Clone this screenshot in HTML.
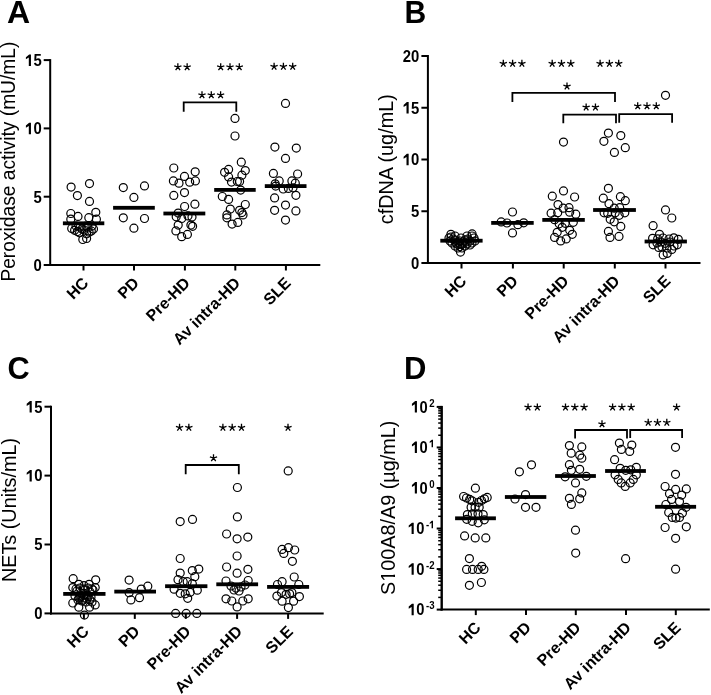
<!DOCTYPE html>
<html><head><meta charset="utf-8"><style>
html,body{margin:0;padding:0;background:#fff;width:711px;height:695px;overflow:hidden}
svg{display:block;will-change:transform}
text{font-family:"Liberation Sans",sans-serif;fill:#000}
</style></head><body>
<svg width="711" height="695" viewBox="0 0 711 695">
<rect width="711" height="695" fill="#fff"/>
<text transform="translate(6.9 23) scale(1 1)" font-size="32" font-weight="700">A</text>
<line x1="50.20" y1="59.10" x2="50.20" y2="266.00" stroke="#000" stroke-width="2"/>
<line x1="49.20" y1="265.00" x2="320.30" y2="265.00" stroke="#000" stroke-width="2"/>
<line x1="43.70" y1="60.10" x2="50.20" y2="60.10" stroke="#000" stroke-width="2"/>
<g transform="translate(41.70 65.90) scale(0.93 1)"><polygon points="-11.55,0.00 -11.55,-11.46 -13.47,-11.46 -16.99,-8.64 -16.99,-6.56 -13.87,-8.32 -13.87,0.00" fill="#000"/><text x="-8.90" y="0" font-size="16" font-weight="700">5</text></g>
<line x1="43.70" y1="128.40" x2="50.20" y2="128.40" stroke="#000" stroke-width="2"/>
<g transform="translate(41.70 134.20) scale(0.93 1)"><polygon points="-11.55,0.00 -11.55,-11.46 -13.47,-11.46 -16.99,-8.64 -16.99,-6.56 -13.87,-8.32 -13.87,0.00" fill="#000"/><text x="-8.90" y="0" font-size="16" font-weight="700">0</text></g>
<line x1="43.70" y1="196.70" x2="50.20" y2="196.70" stroke="#000" stroke-width="2"/>
<g transform="translate(41.70 202.50) scale(0.93 1)"><text x="-8.90" y="0" font-size="16" font-weight="700">5</text></g>
<line x1="43.70" y1="265.00" x2="50.20" y2="265.00" stroke="#000" stroke-width="2"/>
<g transform="translate(41.70 270.80) scale(0.93 1)"><text x="-8.90" y="0" font-size="16" font-weight="700">0</text></g>
<line x1="83.50" y1="265.00" x2="83.50" y2="270.50" stroke="#000" stroke-width="2"/>
<line x1="134.00" y1="265.00" x2="134.00" y2="270.50" stroke="#000" stroke-width="2"/>
<line x1="184.90" y1="265.00" x2="184.90" y2="270.50" stroke="#000" stroke-width="2"/>
<line x1="235.30" y1="265.00" x2="235.30" y2="270.50" stroke="#000" stroke-width="2"/>
<line x1="285.90" y1="265.00" x2="285.90" y2="270.50" stroke="#000" stroke-width="2"/>
<text x="89.5" y="284.0" font-size="16" font-weight="700" text-anchor="end" transform="rotate(-45 89.5 284.0)">HC</text>
<text x="140.0" y="284.0" font-size="16" font-weight="700" text-anchor="end" transform="rotate(-45 140.0 284.0)">PD</text>
<text x="190.9" y="284.0" font-size="16" font-weight="700" text-anchor="end" transform="rotate(-45 190.9 284.0)">Pre-HD</text>
<text x="241.3" y="284.0" font-size="16" font-weight="700" text-anchor="end" transform="rotate(-45 241.3 284.0)">Av intra-HD</text>
<text x="291.9" y="284.0" font-size="16" font-weight="700" text-anchor="end" transform="rotate(-45 291.9 284.0)">SLE</text>
<text x="15.2" y="281.6" font-size="19.4" font-weight="400" text-anchor="start" transform="rotate(-90 15.2 281.6)" textLength="240" lengthAdjust="spacingAndGlyphs">Peroxidase activity (mU/mL)</text>
<circle cx="71.1" cy="187.1" r="4.0" fill="none" stroke="#000" stroke-width="1.2"/>
<circle cx="89.5" cy="183.6" r="4.0" fill="none" stroke="#000" stroke-width="1.2"/>
<circle cx="77.4" cy="195.6" r="4.0" fill="none" stroke="#000" stroke-width="1.2"/>
<circle cx="89.5" cy="201.4" r="4.0" fill="none" stroke="#000" stroke-width="1.2"/>
<circle cx="70.8" cy="213.5" r="4.0" fill="none" stroke="#000" stroke-width="1.2"/>
<circle cx="95.8" cy="212.3" r="4.0" fill="none" stroke="#000" stroke-width="1.2"/>
<circle cx="78.0" cy="216.4" r="4.0" fill="none" stroke="#000" stroke-width="1.2"/>
<circle cx="88.8" cy="217.7" r="4.0" fill="none" stroke="#000" stroke-width="1.2"/>
<circle cx="70.8" cy="219.2" r="4.0" fill="none" stroke="#000" stroke-width="1.2"/>
<circle cx="96.4" cy="219.2" r="4.0" fill="none" stroke="#000" stroke-width="1.2"/>
<circle cx="71.7" cy="228.4" r="4.0" fill="none" stroke="#000" stroke-width="1.2"/>
<circle cx="74.6" cy="230.3" r="4.0" fill="none" stroke="#000" stroke-width="1.2"/>
<circle cx="77.4" cy="231.6" r="4.0" fill="none" stroke="#000" stroke-width="1.2"/>
<circle cx="79.6" cy="232.8" r="4.0" fill="none" stroke="#000" stroke-width="1.2"/>
<circle cx="93.5" cy="229.0" r="4.0" fill="none" stroke="#000" stroke-width="1.2"/>
<circle cx="91.3" cy="231.0" r="4.0" fill="none" stroke="#000" stroke-width="1.2"/>
<circle cx="89.1" cy="232.2" r="4.0" fill="none" stroke="#000" stroke-width="1.2"/>
<circle cx="86.6" cy="233.8" r="4.0" fill="none" stroke="#000" stroke-width="1.2"/>
<circle cx="82.8" cy="239.5" r="4.0" fill="none" stroke="#000" stroke-width="1.2"/>
<circle cx="86.6" cy="238.5" r="4.0" fill="none" stroke="#000" stroke-width="1.2"/>
<circle cx="76.0" cy="226.0" r="4.0" fill="none" stroke="#000" stroke-width="1.2"/>
<circle cx="80.0" cy="227.0" r="4.0" fill="none" stroke="#000" stroke-width="1.2"/>
<circle cx="84.0" cy="230.0" r="4.0" fill="none" stroke="#000" stroke-width="1.2"/>
<circle cx="88.0" cy="228.0" r="4.0" fill="none" stroke="#000" stroke-width="1.2"/>
<circle cx="82.0" cy="229.0" r="4.0" fill="none" stroke="#000" stroke-width="1.2"/>
<circle cx="86.0" cy="226.0" r="4.0" fill="none" stroke="#000" stroke-width="1.2"/>
<circle cx="92.0" cy="226.0" r="4.0" fill="none" stroke="#000" stroke-width="1.2"/>
<circle cx="123.3" cy="187.6" r="4.0" fill="none" stroke="#000" stroke-width="1.2"/>
<circle cx="144.5" cy="185.9" r="4.0" fill="none" stroke="#000" stroke-width="1.2"/>
<circle cx="133.9" cy="197.4" r="4.0" fill="none" stroke="#000" stroke-width="1.2"/>
<circle cx="123.3" cy="217.8" r="4.0" fill="none" stroke="#000" stroke-width="1.2"/>
<circle cx="144.5" cy="218.5" r="4.0" fill="none" stroke="#000" stroke-width="1.2"/>
<circle cx="133.9" cy="228.2" r="4.0" fill="none" stroke="#000" stroke-width="1.2"/>
<circle cx="173.8" cy="168.0" r="4.0" fill="none" stroke="#000" stroke-width="1.2"/>
<circle cx="195.2" cy="171.8" r="4.0" fill="none" stroke="#000" stroke-width="1.2"/>
<circle cx="184.5" cy="176.4" r="4.0" fill="none" stroke="#000" stroke-width="1.2"/>
<circle cx="173.4" cy="180.9" r="4.0" fill="none" stroke="#000" stroke-width="1.2"/>
<circle cx="179.0" cy="183.2" r="4.0" fill="none" stroke="#000" stroke-width="1.2"/>
<circle cx="189.7" cy="182.2" r="4.0" fill="none" stroke="#000" stroke-width="1.2"/>
<circle cx="195.4" cy="180.9" r="4.0" fill="none" stroke="#000" stroke-width="1.2"/>
<circle cx="173.8" cy="195.4" r="4.0" fill="none" stroke="#000" stroke-width="1.2"/>
<circle cx="184.5" cy="192.6" r="4.0" fill="none" stroke="#000" stroke-width="1.2"/>
<circle cx="184.6" cy="206.5" r="4.0" fill="none" stroke="#000" stroke-width="1.2"/>
<circle cx="194.9" cy="204.2" r="4.0" fill="none" stroke="#000" stroke-width="1.2"/>
<circle cx="178.2" cy="213.1" r="4.0" fill="none" stroke="#000" stroke-width="1.2"/>
<circle cx="176.2" cy="216.8" r="4.0" fill="none" stroke="#000" stroke-width="1.2"/>
<circle cx="181.7" cy="218.5" r="4.0" fill="none" stroke="#000" stroke-width="1.2"/>
<circle cx="188.0" cy="215.9" r="4.0" fill="none" stroke="#000" stroke-width="1.2"/>
<circle cx="192.0" cy="217.1" r="4.0" fill="none" stroke="#000" stroke-width="1.2"/>
<circle cx="178.2" cy="225.1" r="4.0" fill="none" stroke="#000" stroke-width="1.2"/>
<circle cx="190.9" cy="225.1" r="4.0" fill="none" stroke="#000" stroke-width="1.2"/>
<circle cx="192.6" cy="226.3" r="4.0" fill="none" stroke="#000" stroke-width="1.2"/>
<circle cx="175.9" cy="230.9" r="4.0" fill="none" stroke="#000" stroke-width="1.2"/>
<circle cx="181.7" cy="236.7" r="4.0" fill="none" stroke="#000" stroke-width="1.2"/>
<circle cx="187.4" cy="234.4" r="4.0" fill="none" stroke="#000" stroke-width="1.2"/>
<circle cx="235.0" cy="118.4" r="4.0" fill="none" stroke="#000" stroke-width="1.2"/>
<circle cx="235.0" cy="136.0" r="4.0" fill="none" stroke="#000" stroke-width="1.2"/>
<circle cx="241.3" cy="162.2" r="4.0" fill="none" stroke="#000" stroke-width="1.2"/>
<circle cx="228.6" cy="169.4" r="4.0" fill="none" stroke="#000" stroke-width="1.2"/>
<circle cx="224.6" cy="172.3" r="4.0" fill="none" stroke="#000" stroke-width="1.2"/>
<circle cx="245.3" cy="170.6" r="4.0" fill="none" stroke="#000" stroke-width="1.2"/>
<circle cx="241.9" cy="175.2" r="4.0" fill="none" stroke="#000" stroke-width="1.2"/>
<circle cx="228.6" cy="176.9" r="4.0" fill="none" stroke="#000" stroke-width="1.2"/>
<circle cx="231.5" cy="182.1" r="4.0" fill="none" stroke="#000" stroke-width="1.2"/>
<circle cx="237.3" cy="181.5" r="4.0" fill="none" stroke="#000" stroke-width="1.2"/>
<circle cx="239.6" cy="181.5" r="4.0" fill="none" stroke="#000" stroke-width="1.2"/>
<circle cx="240.7" cy="190.1" r="4.0" fill="none" stroke="#000" stroke-width="1.2"/>
<circle cx="222.3" cy="196.5" r="4.0" fill="none" stroke="#000" stroke-width="1.2"/>
<circle cx="228.6" cy="199.4" r="4.0" fill="none" stroke="#000" stroke-width="1.2"/>
<circle cx="245.3" cy="204.5" r="4.0" fill="none" stroke="#000" stroke-width="1.2"/>
<circle cx="230.3" cy="209.1" r="4.0" fill="none" stroke="#000" stroke-width="1.2"/>
<circle cx="239.6" cy="210.3" r="4.0" fill="none" stroke="#000" stroke-width="1.2"/>
<circle cx="241.9" cy="212.6" r="4.0" fill="none" stroke="#000" stroke-width="1.2"/>
<circle cx="243.0" cy="214.9" r="4.0" fill="none" stroke="#000" stroke-width="1.2"/>
<circle cx="226.9" cy="214.9" r="4.0" fill="none" stroke="#000" stroke-width="1.2"/>
<circle cx="226.9" cy="217.8" r="4.0" fill="none" stroke="#000" stroke-width="1.2"/>
<circle cx="232.1" cy="224.1" r="4.0" fill="none" stroke="#000" stroke-width="1.2"/>
<circle cx="237.8" cy="222.4" r="4.0" fill="none" stroke="#000" stroke-width="1.2"/>
<circle cx="285.5" cy="103.4" r="4.0" fill="none" stroke="#000" stroke-width="1.2"/>
<circle cx="274.9" cy="147.1" r="4.0" fill="none" stroke="#000" stroke-width="1.2"/>
<circle cx="296.3" cy="148.1" r="4.0" fill="none" stroke="#000" stroke-width="1.2"/>
<circle cx="285.5" cy="158.4" r="4.0" fill="none" stroke="#000" stroke-width="1.2"/>
<circle cx="273.4" cy="173.4" r="4.0" fill="none" stroke="#000" stroke-width="1.2"/>
<circle cx="297.6" cy="174.0" r="4.0" fill="none" stroke="#000" stroke-width="1.2"/>
<circle cx="279.2" cy="180.9" r="4.0" fill="none" stroke="#000" stroke-width="1.2"/>
<circle cx="275.2" cy="183.8" r="4.0" fill="none" stroke="#000" stroke-width="1.2"/>
<circle cx="291.9" cy="180.9" r="4.0" fill="none" stroke="#000" stroke-width="1.2"/>
<circle cx="295.3" cy="183.2" r="4.0" fill="none" stroke="#000" stroke-width="1.2"/>
<circle cx="283.2" cy="189.0" r="4.0" fill="none" stroke="#000" stroke-width="1.2"/>
<circle cx="288.4" cy="188.4" r="4.0" fill="none" stroke="#000" stroke-width="1.2"/>
<circle cx="275.7" cy="186.1" r="4.0" fill="none" stroke="#000" stroke-width="1.2"/>
<circle cx="293.0" cy="187.8" r="4.0" fill="none" stroke="#000" stroke-width="1.2"/>
<circle cx="274.6" cy="197.9" r="4.0" fill="none" stroke="#000" stroke-width="1.2"/>
<circle cx="295.9" cy="195.3" r="4.0" fill="none" stroke="#000" stroke-width="1.2"/>
<circle cx="285.5" cy="205.1" r="4.0" fill="none" stroke="#000" stroke-width="1.2"/>
<circle cx="274.6" cy="210.3" r="4.0" fill="none" stroke="#000" stroke-width="1.2"/>
<circle cx="295.9" cy="210.9" r="4.0" fill="none" stroke="#000" stroke-width="1.2"/>
<circle cx="285.5" cy="220.1" r="4.0" fill="none" stroke="#000" stroke-width="1.2"/>
<rect x="62.9" y="221.4" width="41.4" height="3.8" fill="#000"/>
<rect x="113.1" y="205.9" width="41.7" height="3.8" fill="#000"/>
<rect x="163.4" y="211.6" width="41.9" height="3.8" fill="#000"/>
<rect x="214.2" y="188.0" width="41.5" height="3.8" fill="#000"/>
<rect x="264.8" y="184.2" width="41.7" height="3.8" fill="#000"/>
<path d="M177.85,67.00L177.85,63.20M177.85,67.00L181.46,65.83M177.85,67.00L180.08,70.07M177.85,67.00L175.62,70.07M177.85,67.00L174.24,65.83" stroke="#000" stroke-width="1.3" stroke-linecap="butt" fill="none"/>
<path d="M187.15,67.00L187.15,63.20M187.15,67.00L190.76,65.83M187.15,67.00L189.38,70.07M187.15,67.00L184.92,70.07M187.15,67.00L183.54,65.83" stroke="#000" stroke-width="1.3" stroke-linecap="butt" fill="none"/>
<path d="M220.70,67.00L220.70,63.20M220.70,67.00L224.31,65.83M220.70,67.00L222.93,70.07M220.70,67.00L218.47,70.07M220.70,67.00L217.09,65.83" stroke="#000" stroke-width="1.3" stroke-linecap="butt" fill="none"/>
<path d="M230.00,67.00L230.00,63.20M230.00,67.00L233.61,65.83M230.00,67.00L232.23,70.07M230.00,67.00L227.77,70.07M230.00,67.00L226.39,65.83" stroke="#000" stroke-width="1.3" stroke-linecap="butt" fill="none"/>
<path d="M239.30,67.00L239.30,63.20M239.30,67.00L242.91,65.83M239.30,67.00L241.53,70.07M239.30,67.00L237.07,70.07M239.30,67.00L235.69,65.83" stroke="#000" stroke-width="1.3" stroke-linecap="butt" fill="none"/>
<path d="M274.10,66.60L274.10,62.80M274.10,66.60L277.71,65.43M274.10,66.60L276.33,69.67M274.10,66.60L271.87,69.67M274.10,66.60L270.49,65.43" stroke="#000" stroke-width="1.3" stroke-linecap="butt" fill="none"/>
<path d="M283.40,66.60L283.40,62.80M283.40,66.60L287.01,65.43M283.40,66.60L285.63,69.67M283.40,66.60L281.17,69.67M283.40,66.60L279.79,65.43" stroke="#000" stroke-width="1.3" stroke-linecap="butt" fill="none"/>
<path d="M292.70,66.60L292.70,62.80M292.70,66.60L296.31,65.43M292.70,66.60L294.93,69.67M292.70,66.60L290.47,69.67M292.70,66.60L289.09,65.43" stroke="#000" stroke-width="1.3" stroke-linecap="butt" fill="none"/>
<path d="M183.7,111.8V102.3H236.3V111.8" fill="none" stroke="#000" stroke-width="1.8"/>
<path d="M202.00,95.00L202.00,91.20M202.00,95.00L205.61,93.83M202.00,95.00L204.23,98.07M202.00,95.00L199.77,98.07M202.00,95.00L198.39,93.83" stroke="#000" stroke-width="1.3" stroke-linecap="butt" fill="none"/>
<path d="M211.30,95.00L211.30,91.20M211.30,95.00L214.91,93.83M211.30,95.00L213.53,98.07M211.30,95.00L209.07,98.07M211.30,95.00L207.69,93.83" stroke="#000" stroke-width="1.3" stroke-linecap="butt" fill="none"/>
<path d="M220.60,95.00L220.60,91.20M220.60,95.00L224.21,93.83M220.60,95.00L222.83,98.07M220.60,95.00L218.37,98.07M220.60,95.00L216.99,93.83" stroke="#000" stroke-width="1.3" stroke-linecap="butt" fill="none"/>
<text transform="translate(404.6 22.7) scale(0.94 1)" font-size="32" font-weight="700">B</text>
<line x1="427.90" y1="55.00" x2="427.90" y2="264.00" stroke="#000" stroke-width="2"/>
<line x1="426.90" y1="263.00" x2="700.50" y2="263.00" stroke="#000" stroke-width="2"/>
<line x1="421.40" y1="56.00" x2="427.90" y2="56.00" stroke="#000" stroke-width="2"/>
<g transform="translate(419.40 61.80) scale(0.93 1)"><text x="-17.79" y="0" font-size="16" font-weight="700">2</text><text x="-8.90" y="0" font-size="16" font-weight="700">0</text></g>
<line x1="421.40" y1="107.75" x2="427.90" y2="107.75" stroke="#000" stroke-width="2"/>
<g transform="translate(419.40 113.55) scale(0.93 1)"><polygon points="-11.55,0.00 -11.55,-11.46 -13.47,-11.46 -16.99,-8.64 -16.99,-6.56 -13.87,-8.32 -13.87,0.00" fill="#000"/><text x="-8.90" y="0" font-size="16" font-weight="700">5</text></g>
<line x1="421.40" y1="159.50" x2="427.90" y2="159.50" stroke="#000" stroke-width="2"/>
<g transform="translate(419.40 165.30) scale(0.93 1)"><polygon points="-11.55,0.00 -11.55,-11.46 -13.47,-11.46 -16.99,-8.64 -16.99,-6.56 -13.87,-8.32 -13.87,0.00" fill="#000"/><text x="-8.90" y="0" font-size="16" font-weight="700">0</text></g>
<line x1="421.40" y1="211.25" x2="427.90" y2="211.25" stroke="#000" stroke-width="2"/>
<g transform="translate(419.40 217.05) scale(0.93 1)"><text x="-8.90" y="0" font-size="16" font-weight="700">5</text></g>
<line x1="421.40" y1="263.00" x2="427.90" y2="263.00" stroke="#000" stroke-width="2"/>
<g transform="translate(419.40 268.80) scale(0.93 1)"><text x="-8.90" y="0" font-size="16" font-weight="700">0</text></g>
<line x1="461.50" y1="263.00" x2="461.50" y2="268.50" stroke="#000" stroke-width="2"/>
<line x1="512.90" y1="263.00" x2="512.90" y2="268.50" stroke="#000" stroke-width="2"/>
<line x1="563.70" y1="263.00" x2="563.70" y2="268.50" stroke="#000" stroke-width="2"/>
<line x1="614.80" y1="263.00" x2="614.80" y2="268.50" stroke="#000" stroke-width="2"/>
<line x1="665.50" y1="263.00" x2="665.50" y2="268.50" stroke="#000" stroke-width="2"/>
<text x="467.5" y="282.0" font-size="16" font-weight="700" text-anchor="end" transform="rotate(-45 467.5 282.0)">HC</text>
<text x="518.9" y="282.0" font-size="16" font-weight="700" text-anchor="end" transform="rotate(-45 518.9 282.0)">PD</text>
<text x="569.7" y="282.0" font-size="16" font-weight="700" text-anchor="end" transform="rotate(-45 569.7 282.0)">Pre-HD</text>
<text x="620.8" y="282.0" font-size="16" font-weight="700" text-anchor="end" transform="rotate(-45 620.8 282.0)">Av intra-HD</text>
<text x="671.5" y="282.0" font-size="16" font-weight="700" text-anchor="end" transform="rotate(-45 671.5 282.0)">SLE</text>
<text x="393.0" y="224.2" font-size="19.7" font-weight="400" text-anchor="start" transform="rotate(-90 393.0 224.2)" textLength="130" lengthAdjust="spacingAndGlyphs">cfDNA (ug/mL)</text>
<circle cx="450.9" cy="234.3" r="4.0" fill="none" stroke="#000" stroke-width="1.2"/>
<circle cx="472.1" cy="233.9" r="4.0" fill="none" stroke="#000" stroke-width="1.2"/>
<circle cx="460.5" cy="252.1" r="4.0" fill="none" stroke="#000" stroke-width="1.2"/>
<circle cx="455.0" cy="236.0" r="4.0" fill="none" stroke="#000" stroke-width="1.2"/>
<circle cx="461.0" cy="238.0" r="4.0" fill="none" stroke="#000" stroke-width="1.2"/>
<circle cx="467.0" cy="236.0" r="4.0" fill="none" stroke="#000" stroke-width="1.2"/>
<circle cx="449.0" cy="238.0" r="4.0" fill="none" stroke="#000" stroke-width="1.2"/>
<circle cx="474.0" cy="238.0" r="4.0" fill="none" stroke="#000" stroke-width="1.2"/>
<circle cx="450.0" cy="241.0" r="4.0" fill="none" stroke="#000" stroke-width="1.2"/>
<circle cx="455.0" cy="240.0" r="4.0" fill="none" stroke="#000" stroke-width="1.2"/>
<circle cx="460.0" cy="241.0" r="4.0" fill="none" stroke="#000" stroke-width="1.2"/>
<circle cx="465.0" cy="240.0" r="4.0" fill="none" stroke="#000" stroke-width="1.2"/>
<circle cx="470.0" cy="241.0" r="4.0" fill="none" stroke="#000" stroke-width="1.2"/>
<circle cx="475.0" cy="241.0" r="4.0" fill="none" stroke="#000" stroke-width="1.2"/>
<circle cx="452.0" cy="243.0" r="4.0" fill="none" stroke="#000" stroke-width="1.2"/>
<circle cx="457.0" cy="244.0" r="4.0" fill="none" stroke="#000" stroke-width="1.2"/>
<circle cx="462.0" cy="244.0" r="4.0" fill="none" stroke="#000" stroke-width="1.2"/>
<circle cx="467.0" cy="244.0" r="4.0" fill="none" stroke="#000" stroke-width="1.2"/>
<circle cx="472.0" cy="243.0" r="4.0" fill="none" stroke="#000" stroke-width="1.2"/>
<circle cx="455.0" cy="246.0" r="4.0" fill="none" stroke="#000" stroke-width="1.2"/>
<circle cx="460.0" cy="246.5" r="4.0" fill="none" stroke="#000" stroke-width="1.2"/>
<circle cx="465.0" cy="246.0" r="4.0" fill="none" stroke="#000" stroke-width="1.2"/>
<circle cx="462.0" cy="248.0" r="4.0" fill="none" stroke="#000" stroke-width="1.2"/>
<circle cx="458.0" cy="248.0" r="4.0" fill="none" stroke="#000" stroke-width="1.2"/>
<circle cx="453.0" cy="239.0" r="4.0" fill="none" stroke="#000" stroke-width="1.2"/>
<circle cx="458.0" cy="242.0" r="4.0" fill="none" stroke="#000" stroke-width="1.2"/>
<circle cx="463.0" cy="242.0" r="4.0" fill="none" stroke="#000" stroke-width="1.2"/>
<circle cx="468.0" cy="239.0" r="4.0" fill="none" stroke="#000" stroke-width="1.2"/>
<circle cx="460.0" cy="244.0" r="4.0" fill="none" stroke="#000" stroke-width="1.2"/>
<circle cx="466.0" cy="242.0" r="4.0" fill="none" stroke="#000" stroke-width="1.2"/>
<circle cx="456.0" cy="243.0" r="4.0" fill="none" stroke="#000" stroke-width="1.2"/>
<circle cx="470.0" cy="245.0" r="4.0" fill="none" stroke="#000" stroke-width="1.2"/>
<circle cx="451.0" cy="237.0" r="4.0" fill="none" stroke="#000" stroke-width="1.2"/>
<circle cx="472.0" cy="236.0" r="4.0" fill="none" stroke="#000" stroke-width="1.2"/>
<circle cx="512.5" cy="212.0" r="4.0" fill="none" stroke="#000" stroke-width="1.2"/>
<circle cx="501.2" cy="221.9" r="4.0" fill="none" stroke="#000" stroke-width="1.2"/>
<circle cx="507.0" cy="223.0" r="4.0" fill="none" stroke="#000" stroke-width="1.2"/>
<circle cx="517.9" cy="224.7" r="4.0" fill="none" stroke="#000" stroke-width="1.2"/>
<circle cx="523.7" cy="222.8" r="4.0" fill="none" stroke="#000" stroke-width="1.2"/>
<circle cx="512.5" cy="232.9" r="4.0" fill="none" stroke="#000" stroke-width="1.2"/>
<circle cx="563.5" cy="142.1" r="4.0" fill="none" stroke="#000" stroke-width="1.2"/>
<circle cx="563.5" cy="190.9" r="4.0" fill="none" stroke="#000" stroke-width="1.2"/>
<circle cx="552.3" cy="196.2" r="4.0" fill="none" stroke="#000" stroke-width="1.2"/>
<circle cx="574.6" cy="197.0" r="4.0" fill="none" stroke="#000" stroke-width="1.2"/>
<circle cx="558.0" cy="204.6" r="4.0" fill="none" stroke="#000" stroke-width="1.2"/>
<circle cx="563.2" cy="208.2" r="4.0" fill="none" stroke="#000" stroke-width="1.2"/>
<circle cx="569.0" cy="207.7" r="4.0" fill="none" stroke="#000" stroke-width="1.2"/>
<circle cx="551.1" cy="213.2" r="4.0" fill="none" stroke="#000" stroke-width="1.2"/>
<circle cx="557.7" cy="212.7" r="4.0" fill="none" stroke="#000" stroke-width="1.2"/>
<circle cx="569.7" cy="212.2" r="4.0" fill="none" stroke="#000" stroke-width="1.2"/>
<circle cx="575.8" cy="214.2" r="4.0" fill="none" stroke="#000" stroke-width="1.2"/>
<circle cx="554.6" cy="219.7" r="4.0" fill="none" stroke="#000" stroke-width="1.2"/>
<circle cx="559.2" cy="223.8" r="4.0" fill="none" stroke="#000" stroke-width="1.2"/>
<circle cx="565.2" cy="223.3" r="4.0" fill="none" stroke="#000" stroke-width="1.2"/>
<circle cx="573.3" cy="222.3" r="4.0" fill="none" stroke="#000" stroke-width="1.2"/>
<circle cx="557.2" cy="232.3" r="4.0" fill="none" stroke="#000" stroke-width="1.2"/>
<circle cx="569.7" cy="230.3" r="4.0" fill="none" stroke="#000" stroke-width="1.2"/>
<circle cx="572.3" cy="234.3" r="4.0" fill="none" stroke="#000" stroke-width="1.2"/>
<circle cx="554.6" cy="237.4" r="4.0" fill="none" stroke="#000" stroke-width="1.2"/>
<circle cx="560.7" cy="240.9" r="4.0" fill="none" stroke="#000" stroke-width="1.2"/>
<circle cx="566.2" cy="238.9" r="4.0" fill="none" stroke="#000" stroke-width="1.2"/>
<circle cx="562.2" cy="227.3" r="4.0" fill="none" stroke="#000" stroke-width="1.2"/>
<circle cx="608.4" cy="133.1" r="4.0" fill="none" stroke="#000" stroke-width="1.2"/>
<circle cx="620.8" cy="135.6" r="4.0" fill="none" stroke="#000" stroke-width="1.2"/>
<circle cx="603.9" cy="141.3" r="4.0" fill="none" stroke="#000" stroke-width="1.2"/>
<circle cx="625.3" cy="147.7" r="4.0" fill="none" stroke="#000" stroke-width="1.2"/>
<circle cx="614.4" cy="152.4" r="4.0" fill="none" stroke="#000" stroke-width="1.2"/>
<circle cx="608.4" cy="188.3" r="4.0" fill="none" stroke="#000" stroke-width="1.2"/>
<circle cx="603.3" cy="198.2" r="4.0" fill="none" stroke="#000" stroke-width="1.2"/>
<circle cx="620.4" cy="196.7" r="4.0" fill="none" stroke="#000" stroke-width="1.2"/>
<circle cx="625.3" cy="200.7" r="4.0" fill="none" stroke="#000" stroke-width="1.2"/>
<circle cx="609.0" cy="203.7" r="4.0" fill="none" stroke="#000" stroke-width="1.2"/>
<circle cx="614.2" cy="208.2" r="4.0" fill="none" stroke="#000" stroke-width="1.2"/>
<circle cx="619.7" cy="207.7" r="4.0" fill="none" stroke="#000" stroke-width="1.2"/>
<circle cx="604.1" cy="212.8" r="4.0" fill="none" stroke="#000" stroke-width="1.2"/>
<circle cx="624.8" cy="212.8" r="4.0" fill="none" stroke="#000" stroke-width="1.2"/>
<circle cx="610.2" cy="219.3" r="4.0" fill="none" stroke="#000" stroke-width="1.2"/>
<circle cx="614.2" cy="221.8" r="4.0" fill="none" stroke="#000" stroke-width="1.2"/>
<circle cx="619.2" cy="215.3" r="4.0" fill="none" stroke="#000" stroke-width="1.2"/>
<circle cx="620.8" cy="226.4" r="4.0" fill="none" stroke="#000" stroke-width="1.2"/>
<circle cx="608.4" cy="231.4" r="4.0" fill="none" stroke="#000" stroke-width="1.2"/>
<circle cx="610.0" cy="237.4" r="4.0" fill="none" stroke="#000" stroke-width="1.2"/>
<circle cx="619.0" cy="236.4" r="4.0" fill="none" stroke="#000" stroke-width="1.2"/>
<circle cx="607.7" cy="213.3" r="4.0" fill="none" stroke="#000" stroke-width="1.2"/>
<circle cx="615.2" cy="212.8" r="4.0" fill="none" stroke="#000" stroke-width="1.2"/>
<circle cx="665.5" cy="95.3" r="4.0" fill="none" stroke="#000" stroke-width="1.2"/>
<circle cx="665.5" cy="209.9" r="4.0" fill="none" stroke="#000" stroke-width="1.2"/>
<circle cx="671.8" cy="218.0" r="4.0" fill="none" stroke="#000" stroke-width="1.2"/>
<circle cx="653.1" cy="225.7" r="4.0" fill="none" stroke="#000" stroke-width="1.2"/>
<circle cx="659.5" cy="234.3" r="4.0" fill="none" stroke="#000" stroke-width="1.2"/>
<circle cx="652.6" cy="238.3" r="4.0" fill="none" stroke="#000" stroke-width="1.2"/>
<circle cx="657.7" cy="238.8" r="4.0" fill="none" stroke="#000" stroke-width="1.2"/>
<circle cx="673.8" cy="237.8" r="4.0" fill="none" stroke="#000" stroke-width="1.2"/>
<circle cx="678.3" cy="239.3" r="4.0" fill="none" stroke="#000" stroke-width="1.2"/>
<circle cx="653.1" cy="244.8" r="4.0" fill="none" stroke="#000" stroke-width="1.2"/>
<circle cx="658.7" cy="247.4" r="4.0" fill="none" stroke="#000" stroke-width="1.2"/>
<circle cx="677.3" cy="244.8" r="4.0" fill="none" stroke="#000" stroke-width="1.2"/>
<circle cx="671.8" cy="249.4" r="4.0" fill="none" stroke="#000" stroke-width="1.2"/>
<circle cx="667.2" cy="253.4" r="4.0" fill="none" stroke="#000" stroke-width="1.2"/>
<circle cx="663.2" cy="254.9" r="4.0" fill="none" stroke="#000" stroke-width="1.2"/>
<circle cx="665.2" cy="243.3" r="4.0" fill="none" stroke="#000" stroke-width="1.2"/>
<circle cx="661.0" cy="242.0" r="4.0" fill="none" stroke="#000" stroke-width="1.2"/>
<circle cx="670.0" cy="242.0" r="4.0" fill="none" stroke="#000" stroke-width="1.2"/>
<circle cx="662.0" cy="247.0" r="4.0" fill="none" stroke="#000" stroke-width="1.2"/>
<circle cx="667.0" cy="248.0" r="4.0" fill="none" stroke="#000" stroke-width="1.2"/>
<circle cx="674.0" cy="246.0" r="4.0" fill="none" stroke="#000" stroke-width="1.2"/>
<circle cx="657.0" cy="243.0" r="4.0" fill="none" stroke="#000" stroke-width="1.2"/>
<circle cx="669.0" cy="239.0" r="4.0" fill="none" stroke="#000" stroke-width="1.2"/>
<circle cx="663.0" cy="238.0" r="4.0" fill="none" stroke="#000" stroke-width="1.2"/>
<rect x="440.3" y="238.8" width="42.3" height="3.8" fill="#000"/>
<rect x="491.2" y="221.0" width="42.5" height="3.8" fill="#000"/>
<rect x="542.3" y="218.0" width="42.5" height="3.8" fill="#000"/>
<rect x="593.1" y="208.1" width="42.8" height="3.8" fill="#000"/>
<rect x="644.6" y="239.6" width="42.3" height="3.8" fill="#000"/>
<path d="M503.30,63.60L503.30,59.80M503.30,63.60L506.91,62.43M503.30,63.60L505.53,66.67M503.30,63.60L501.07,66.67M503.30,63.60L499.69,62.43" stroke="#000" stroke-width="1.3" stroke-linecap="butt" fill="none"/>
<path d="M512.60,63.60L512.60,59.80M512.60,63.60L516.21,62.43M512.60,63.60L514.83,66.67M512.60,63.60L510.37,66.67M512.60,63.60L508.99,62.43" stroke="#000" stroke-width="1.3" stroke-linecap="butt" fill="none"/>
<path d="M521.90,63.60L521.90,59.80M521.90,63.60L525.51,62.43M521.90,63.60L524.13,66.67M521.90,63.60L519.67,66.67M521.90,63.60L518.29,62.43" stroke="#000" stroke-width="1.3" stroke-linecap="butt" fill="none"/>
<path d="M552.20,63.60L552.20,59.80M552.20,63.60L555.81,62.43M552.20,63.60L554.43,66.67M552.20,63.60L549.97,66.67M552.20,63.60L548.59,62.43" stroke="#000" stroke-width="1.3" stroke-linecap="butt" fill="none"/>
<path d="M561.50,63.60L561.50,59.80M561.50,63.60L565.11,62.43M561.50,63.60L563.73,66.67M561.50,63.60L559.27,66.67M561.50,63.60L557.89,62.43" stroke="#000" stroke-width="1.3" stroke-linecap="butt" fill="none"/>
<path d="M570.80,63.60L570.80,59.80M570.80,63.60L574.41,62.43M570.80,63.60L573.03,66.67M570.80,63.60L568.57,66.67M570.80,63.60L567.19,62.43" stroke="#000" stroke-width="1.3" stroke-linecap="butt" fill="none"/>
<path d="M600.10,63.60L600.10,59.80M600.10,63.60L603.71,62.43M600.10,63.60L602.33,66.67M600.10,63.60L597.87,66.67M600.10,63.60L596.49,62.43" stroke="#000" stroke-width="1.3" stroke-linecap="butt" fill="none"/>
<path d="M609.40,63.60L609.40,59.80M609.40,63.60L613.01,62.43M609.40,63.60L611.63,66.67M609.40,63.60L607.17,66.67M609.40,63.60L605.79,62.43" stroke="#000" stroke-width="1.3" stroke-linecap="butt" fill="none"/>
<path d="M618.70,63.60L618.70,59.80M618.70,63.60L622.31,62.43M618.70,63.60L620.93,66.67M618.70,63.60L616.47,66.67M618.70,63.60L615.09,62.43" stroke="#000" stroke-width="1.3" stroke-linecap="butt" fill="none"/>
<path d="M512.4,102.0V92.8H615.0V102.0" fill="none" stroke="#000" stroke-width="1.8"/>
<path d="M567.00,86.30L567.00,82.50M567.00,86.30L570.61,85.13M567.00,86.30L569.23,89.37M567.00,86.30L564.77,89.37M567.00,86.30L563.39,85.13" stroke="#000" stroke-width="1.3" stroke-linecap="butt" fill="none"/>
<path d="M563.3,123.3V114.6H616.0V123.3" fill="none" stroke="#000" stroke-width="1.8"/>
<path d="M586.15,107.20L586.15,103.40M586.15,107.20L589.76,106.03M586.15,107.20L588.38,110.27M586.15,107.20L583.92,110.27M586.15,107.20L582.54,106.03" stroke="#000" stroke-width="1.3" stroke-linecap="butt" fill="none"/>
<path d="M595.45,107.20L595.45,103.40M595.45,107.20L599.06,106.03M595.45,107.20L597.68,110.27M595.45,107.20L593.22,110.27M595.45,107.20L591.84,106.03" stroke="#000" stroke-width="1.3" stroke-linecap="butt" fill="none"/>
<path d="M619.2,122.8V114.2H672.1V122.8" fill="none" stroke="#000" stroke-width="1.8"/>
<path d="M637.70,106.00L637.70,102.20M637.70,106.00L641.31,104.83M637.70,106.00L639.93,109.07M637.70,106.00L635.47,109.07M637.70,106.00L634.09,104.83" stroke="#000" stroke-width="1.3" stroke-linecap="butt" fill="none"/>
<path d="M647.00,106.00L647.00,102.20M647.00,106.00L650.61,104.83M647.00,106.00L649.23,109.07M647.00,106.00L644.77,109.07M647.00,106.00L643.39,104.83" stroke="#000" stroke-width="1.3" stroke-linecap="butt" fill="none"/>
<path d="M656.30,106.00L656.30,102.20M656.30,106.00L659.91,104.83M656.30,106.00L658.53,109.07M656.30,106.00L654.07,109.07M656.30,106.00L652.69,104.83" stroke="#000" stroke-width="1.3" stroke-linecap="butt" fill="none"/>
<text transform="translate(7.5 379.2) scale(0.96 1)" font-size="32" font-weight="700">C</text>
<line x1="51.00" y1="405.70" x2="51.00" y2="614.40" stroke="#000" stroke-width="2"/>
<line x1="50.00" y1="613.40" x2="323.70" y2="613.40" stroke="#000" stroke-width="2"/>
<line x1="44.50" y1="406.70" x2="51.00" y2="406.70" stroke="#000" stroke-width="2"/>
<g transform="translate(42.50 412.50) scale(0.93 1)"><polygon points="-11.55,0.00 -11.55,-11.46 -13.47,-11.46 -16.99,-8.64 -16.99,-6.56 -13.87,-8.32 -13.87,0.00" fill="#000"/><text x="-8.90" y="0" font-size="16" font-weight="700">5</text></g>
<line x1="44.50" y1="475.60" x2="51.00" y2="475.60" stroke="#000" stroke-width="2"/>
<g transform="translate(42.50 481.40) scale(0.93 1)"><polygon points="-11.55,0.00 -11.55,-11.46 -13.47,-11.46 -16.99,-8.64 -16.99,-6.56 -13.87,-8.32 -13.87,0.00" fill="#000"/><text x="-8.90" y="0" font-size="16" font-weight="700">0</text></g>
<line x1="44.50" y1="544.50" x2="51.00" y2="544.50" stroke="#000" stroke-width="2"/>
<g transform="translate(42.50 550.30) scale(0.93 1)"><text x="-8.90" y="0" font-size="16" font-weight="700">5</text></g>
<line x1="44.50" y1="613.40" x2="51.00" y2="613.40" stroke="#000" stroke-width="2"/>
<g transform="translate(42.50 619.20) scale(0.93 1)"><text x="-8.90" y="0" font-size="16" font-weight="700">0</text></g>
<line x1="83.90" y1="613.40" x2="83.90" y2="618.90" stroke="#000" stroke-width="2"/>
<line x1="134.80" y1="613.40" x2="134.80" y2="618.90" stroke="#000" stroke-width="2"/>
<line x1="185.80" y1="613.40" x2="185.80" y2="618.90" stroke="#000" stroke-width="2"/>
<line x1="237.10" y1="613.40" x2="237.10" y2="618.90" stroke="#000" stroke-width="2"/>
<line x1="288.10" y1="613.40" x2="288.10" y2="618.90" stroke="#000" stroke-width="2"/>
<text x="89.9" y="632.4" font-size="16" font-weight="700" text-anchor="end" transform="rotate(-45 89.9 632.4)">HC</text>
<text x="140.8" y="632.4" font-size="16" font-weight="700" text-anchor="end" transform="rotate(-45 140.8 632.4)">PD</text>
<text x="191.8" y="632.4" font-size="16" font-weight="700" text-anchor="end" transform="rotate(-45 191.8 632.4)">Pre-HD</text>
<text x="243.1" y="632.4" font-size="16" font-weight="700" text-anchor="end" transform="rotate(-45 243.1 632.4)">Av intra-HD</text>
<text x="294.1" y="632.4" font-size="16" font-weight="700" text-anchor="end" transform="rotate(-45 294.1 632.4)">SLE</text>
<text x="15.8" y="582.0" font-size="19.8" font-weight="400" text-anchor="start" transform="rotate(-90 15.8 582.0)" textLength="144" lengthAdjust="spacingAndGlyphs">NETs (Units/mL)</text>
<circle cx="73.2" cy="578.7" r="4.0" fill="none" stroke="#000" stroke-width="1.2"/>
<circle cx="95.7" cy="579.8" r="4.0" fill="none" stroke="#000" stroke-width="1.2"/>
<circle cx="78.8" cy="584.3" r="4.0" fill="none" stroke="#000" stroke-width="1.2"/>
<circle cx="84.0" cy="585.7" r="4.0" fill="none" stroke="#000" stroke-width="1.2"/>
<circle cx="89.1" cy="584.3" r="4.0" fill="none" stroke="#000" stroke-width="1.2"/>
<circle cx="72.8" cy="587.6" r="4.0" fill="none" stroke="#000" stroke-width="1.2"/>
<circle cx="95.2" cy="587.6" r="4.0" fill="none" stroke="#000" stroke-width="1.2"/>
<circle cx="72.8" cy="603.0" r="4.0" fill="none" stroke="#000" stroke-width="1.2"/>
<circle cx="95.2" cy="604.9" r="4.0" fill="none" stroke="#000" stroke-width="1.2"/>
<circle cx="78.8" cy="607.2" r="4.0" fill="none" stroke="#000" stroke-width="1.2"/>
<circle cx="89.6" cy="607.2" r="4.0" fill="none" stroke="#000" stroke-width="1.2"/>
<circle cx="84.4" cy="615.1" r="4.0" fill="none" stroke="#000" stroke-width="1.2"/>
<circle cx="77.0" cy="591.0" r="4.0" fill="none" stroke="#000" stroke-width="1.2"/>
<circle cx="81.0" cy="593.0" r="4.0" fill="none" stroke="#000" stroke-width="1.2"/>
<circle cx="85.0" cy="590.0" r="4.0" fill="none" stroke="#000" stroke-width="1.2"/>
<circle cx="90.0" cy="592.0" r="4.0" fill="none" stroke="#000" stroke-width="1.2"/>
<circle cx="93.0" cy="590.0" r="4.0" fill="none" stroke="#000" stroke-width="1.2"/>
<circle cx="79.0" cy="598.0" r="4.0" fill="none" stroke="#000" stroke-width="1.2"/>
<circle cx="83.0" cy="600.0" r="4.0" fill="none" stroke="#000" stroke-width="1.2"/>
<circle cx="87.0" cy="599.0" r="4.0" fill="none" stroke="#000" stroke-width="1.2"/>
<circle cx="91.0" cy="597.0" r="4.0" fill="none" stroke="#000" stroke-width="1.2"/>
<circle cx="81.0" cy="596.0" r="4.0" fill="none" stroke="#000" stroke-width="1.2"/>
<circle cx="86.0" cy="595.0" r="4.0" fill="none" stroke="#000" stroke-width="1.2"/>
<circle cx="75.0" cy="596.0" r="4.0" fill="none" stroke="#000" stroke-width="1.2"/>
<circle cx="92.0" cy="602.0" r="4.0" fill="none" stroke="#000" stroke-width="1.2"/>
<circle cx="80.0" cy="597.0" r="4.0" fill="none" stroke="#000" stroke-width="1.2"/>
<circle cx="84.0" cy="598.0" r="4.0" fill="none" stroke="#000" stroke-width="1.2"/>
<circle cx="88.0" cy="597.0" r="4.0" fill="none" stroke="#000" stroke-width="1.2"/>
<circle cx="82.0" cy="601.0" r="4.0" fill="none" stroke="#000" stroke-width="1.2"/>
<circle cx="86.0" cy="602.0" r="4.0" fill="none" stroke="#000" stroke-width="1.2"/>
<circle cx="84.0" cy="595.0" r="4.0" fill="none" stroke="#000" stroke-width="1.2"/>
<circle cx="78.0" cy="600.0" r="4.0" fill="none" stroke="#000" stroke-width="1.2"/>
<circle cx="90.0" cy="600.0" r="4.0" fill="none" stroke="#000" stroke-width="1.2"/>
<circle cx="76.0" cy="589.0" r="4.0" fill="none" stroke="#000" stroke-width="1.2"/>
<circle cx="80.0" cy="588.0" r="4.0" fill="none" stroke="#000" stroke-width="1.2"/>
<circle cx="88.0" cy="588.0" r="4.0" fill="none" stroke="#000" stroke-width="1.2"/>
<circle cx="92.0" cy="589.0" r="4.0" fill="none" stroke="#000" stroke-width="1.2"/>
<circle cx="84.0" cy="589.0" r="4.0" fill="none" stroke="#000" stroke-width="1.2"/>
<circle cx="129.1" cy="580.1" r="4.0" fill="none" stroke="#000" stroke-width="1.2"/>
<circle cx="147.8" cy="586.2" r="4.0" fill="none" stroke="#000" stroke-width="1.2"/>
<circle cx="141.3" cy="589.1" r="4.0" fill="none" stroke="#000" stroke-width="1.2"/>
<circle cx="129.1" cy="592.7" r="4.0" fill="none" stroke="#000" stroke-width="1.2"/>
<circle cx="130.9" cy="599.9" r="4.0" fill="none" stroke="#000" stroke-width="1.2"/>
<circle cx="139.5" cy="597.7" r="4.0" fill="none" stroke="#000" stroke-width="1.2"/>
<circle cx="180.2" cy="521.6" r="4.0" fill="none" stroke="#000" stroke-width="1.2"/>
<circle cx="192.5" cy="519.4" r="4.0" fill="none" stroke="#000" stroke-width="1.2"/>
<circle cx="180.2" cy="558.5" r="4.0" fill="none" stroke="#000" stroke-width="1.2"/>
<circle cx="180.2" cy="573.1" r="4.0" fill="none" stroke="#000" stroke-width="1.2"/>
<circle cx="192.3" cy="570.6" r="4.0" fill="none" stroke="#000" stroke-width="1.2"/>
<circle cx="198.8" cy="569.1" r="4.0" fill="none" stroke="#000" stroke-width="1.2"/>
<circle cx="178.0" cy="579.7" r="4.0" fill="none" stroke="#000" stroke-width="1.2"/>
<circle cx="194.8" cy="576.7" r="4.0" fill="none" stroke="#000" stroke-width="1.2"/>
<circle cx="183.2" cy="581.7" r="4.0" fill="none" stroke="#000" stroke-width="1.2"/>
<circle cx="187.2" cy="581.7" r="4.0" fill="none" stroke="#000" stroke-width="1.2"/>
<circle cx="192.3" cy="583.7" r="4.0" fill="none" stroke="#000" stroke-width="1.2"/>
<circle cx="174.1" cy="589.2" r="4.0" fill="none" stroke="#000" stroke-width="1.2"/>
<circle cx="180.2" cy="593.3" r="4.0" fill="none" stroke="#000" stroke-width="1.2"/>
<circle cx="185.2" cy="593.8" r="4.0" fill="none" stroke="#000" stroke-width="1.2"/>
<circle cx="190.2" cy="592.3" r="4.0" fill="none" stroke="#000" stroke-width="1.2"/>
<circle cx="197.3" cy="590.2" r="4.0" fill="none" stroke="#000" stroke-width="1.2"/>
<circle cx="187.7" cy="598.3" r="4.0" fill="none" stroke="#000" stroke-width="1.2"/>
<circle cx="175.6" cy="613.4" r="4.0" fill="none" stroke="#000" stroke-width="1.2"/>
<circle cx="186.2" cy="613.4" r="4.0" fill="none" stroke="#000" stroke-width="1.2"/>
<circle cx="196.8" cy="613.4" r="4.0" fill="none" stroke="#000" stroke-width="1.2"/>
<circle cx="237.4" cy="487.5" r="4.0" fill="none" stroke="#000" stroke-width="1.2"/>
<circle cx="237.4" cy="516.9" r="4.0" fill="none" stroke="#000" stroke-width="1.2"/>
<circle cx="226.6" cy="534.0" r="4.0" fill="none" stroke="#000" stroke-width="1.2"/>
<circle cx="237.1" cy="538.8" r="4.0" fill="none" stroke="#000" stroke-width="1.2"/>
<circle cx="247.8" cy="537.1" r="4.0" fill="none" stroke="#000" stroke-width="1.2"/>
<circle cx="237.1" cy="556.0" r="4.0" fill="none" stroke="#000" stroke-width="1.2"/>
<circle cx="226.6" cy="567.0" r="4.0" fill="none" stroke="#000" stroke-width="1.2"/>
<circle cx="247.9" cy="569.3" r="4.0" fill="none" stroke="#000" stroke-width="1.2"/>
<circle cx="237.1" cy="573.2" r="4.0" fill="none" stroke="#000" stroke-width="1.2"/>
<circle cx="226.0" cy="581.0" r="4.0" fill="none" stroke="#000" stroke-width="1.2"/>
<circle cx="248.2" cy="580.5" r="4.0" fill="none" stroke="#000" stroke-width="1.2"/>
<circle cx="231.0" cy="586.0" r="4.0" fill="none" stroke="#000" stroke-width="1.2"/>
<circle cx="236.0" cy="588.0" r="4.0" fill="none" stroke="#000" stroke-width="1.2"/>
<circle cx="241.0" cy="587.0" r="4.0" fill="none" stroke="#000" stroke-width="1.2"/>
<circle cx="245.0" cy="585.0" r="4.0" fill="none" stroke="#000" stroke-width="1.2"/>
<circle cx="234.0" cy="590.0" r="4.0" fill="none" stroke="#000" stroke-width="1.2"/>
<circle cx="239.0" cy="591.0" r="4.0" fill="none" stroke="#000" stroke-width="1.2"/>
<circle cx="226.0" cy="598.8" r="4.0" fill="none" stroke="#000" stroke-width="1.2"/>
<circle cx="231.8" cy="601.0" r="4.0" fill="none" stroke="#000" stroke-width="1.2"/>
<circle cx="237.1" cy="606.9" r="4.0" fill="none" stroke="#000" stroke-width="1.2"/>
<circle cx="242.8" cy="601.0" r="4.0" fill="none" stroke="#000" stroke-width="1.2"/>
<circle cx="248.2" cy="598.8" r="4.0" fill="none" stroke="#000" stroke-width="1.2"/>
<circle cx="288.2" cy="470.9" r="4.0" fill="none" stroke="#000" stroke-width="1.2"/>
<circle cx="282.1" cy="549.4" r="4.0" fill="none" stroke="#000" stroke-width="1.2"/>
<circle cx="288.4" cy="547.7" r="4.0" fill="none" stroke="#000" stroke-width="1.2"/>
<circle cx="294.7" cy="550.0" r="4.0" fill="none" stroke="#000" stroke-width="1.2"/>
<circle cx="283.8" cy="553.4" r="4.0" fill="none" stroke="#000" stroke-width="1.2"/>
<circle cx="292.4" cy="561.3" r="4.0" fill="none" stroke="#000" stroke-width="1.2"/>
<circle cx="294.2" cy="577.0" r="4.0" fill="none" stroke="#000" stroke-width="1.2"/>
<circle cx="282.1" cy="581.7" r="4.0" fill="none" stroke="#000" stroke-width="1.2"/>
<circle cx="277.5" cy="584.5" r="4.0" fill="none" stroke="#000" stroke-width="1.2"/>
<circle cx="298.8" cy="584.5" r="4.0" fill="none" stroke="#000" stroke-width="1.2"/>
<circle cx="281.5" cy="592.6" r="4.0" fill="none" stroke="#000" stroke-width="1.2"/>
<circle cx="289.6" cy="593.8" r="4.0" fill="none" stroke="#000" stroke-width="1.2"/>
<circle cx="286.1" cy="594.3" r="4.0" fill="none" stroke="#000" stroke-width="1.2"/>
<circle cx="276.9" cy="596.1" r="4.0" fill="none" stroke="#000" stroke-width="1.2"/>
<circle cx="299.4" cy="596.6" r="4.0" fill="none" stroke="#000" stroke-width="1.2"/>
<circle cx="282.1" cy="601.2" r="4.0" fill="none" stroke="#000" stroke-width="1.2"/>
<circle cx="293.6" cy="601.2" r="4.0" fill="none" stroke="#000" stroke-width="1.2"/>
<circle cx="288.4" cy="607.6" r="4.0" fill="none" stroke="#000" stroke-width="1.2"/>
<circle cx="291.9" cy="592.6" r="4.0" fill="none" stroke="#000" stroke-width="1.2"/>
<rect x="63.2" y="592.0" width="42.3" height="3.8" fill="#000"/>
<rect x="114.3" y="589.7" width="41.7" height="3.8" fill="#000"/>
<rect x="165.1" y="584.3" width="42.3" height="3.8" fill="#000"/>
<rect x="216.3" y="582.4" width="41.8" height="3.8" fill="#000"/>
<rect x="267.1" y="585.0" width="42.0" height="3.8" fill="#000"/>
<path d="M179.55,427.60L179.55,423.80M179.55,427.60L183.16,426.43M179.55,427.60L181.78,430.67M179.55,427.60L177.32,430.67M179.55,427.60L175.94,426.43" stroke="#000" stroke-width="1.3" stroke-linecap="butt" fill="none"/>
<path d="M188.85,427.60L188.85,423.80M188.85,427.60L192.46,426.43M188.85,427.60L191.08,430.67M188.85,427.60L186.62,430.67M188.85,427.60L185.24,426.43" stroke="#000" stroke-width="1.3" stroke-linecap="butt" fill="none"/>
<path d="M222.90,427.60L222.90,423.80M222.90,427.60L226.51,426.43M222.90,427.60L225.13,430.67M222.90,427.60L220.67,430.67M222.90,427.60L219.29,426.43" stroke="#000" stroke-width="1.3" stroke-linecap="butt" fill="none"/>
<path d="M232.20,427.60L232.20,423.80M232.20,427.60L235.81,426.43M232.20,427.60L234.43,430.67M232.20,427.60L229.97,430.67M232.20,427.60L228.59,426.43" stroke="#000" stroke-width="1.3" stroke-linecap="butt" fill="none"/>
<path d="M241.50,427.60L241.50,423.80M241.50,427.60L245.11,426.43M241.50,427.60L243.73,430.67M241.50,427.60L239.27,430.67M241.50,427.60L237.89,426.43" stroke="#000" stroke-width="1.3" stroke-linecap="butt" fill="none"/>
<path d="M288.00,427.60L288.00,423.80M288.00,427.60L291.61,426.43M288.00,427.60L290.23,430.67M288.00,427.60L285.77,430.67M288.00,427.60L284.39,426.43" stroke="#000" stroke-width="1.3" stroke-linecap="butt" fill="none"/>
<path d="M185.7,474.3V465.0H238.8V474.3" fill="none" stroke="#000" stroke-width="1.8"/>
<path d="M213.50,458.00L213.50,454.20M213.50,458.00L217.11,456.83M213.50,458.00L215.73,461.07M213.50,458.00L211.27,461.07M213.50,458.00L209.89,456.83" stroke="#000" stroke-width="1.3" stroke-linecap="butt" fill="none"/>
<text transform="translate(404.1 379.4) scale(0.97 1)" font-size="32" font-weight="700">D</text>
<line x1="441.70" y1="405.90" x2="441.70" y2="610.60" stroke="#000" stroke-width="2.4"/>
<line x1="440.70" y1="609.60" x2="709.80" y2="609.60" stroke="#000" stroke-width="2"/>
<line x1="436.70" y1="406.90" x2="441.70" y2="406.90" stroke="#000" stroke-width="2"/>
<line x1="438.20" y1="435.24" x2="441.70" y2="435.24" stroke="#000" stroke-width="1.5"/>
<line x1="438.20" y1="428.10" x2="441.70" y2="428.10" stroke="#000" stroke-width="1.5"/>
<line x1="438.20" y1="423.03" x2="441.70" y2="423.03" stroke="#000" stroke-width="1.5"/>
<line x1="438.20" y1="419.10" x2="441.70" y2="419.10" stroke="#000" stroke-width="1.5"/>
<line x1="438.20" y1="415.89" x2="441.70" y2="415.89" stroke="#000" stroke-width="1.5"/>
<line x1="438.20" y1="413.18" x2="441.70" y2="413.18" stroke="#000" stroke-width="1.5"/>
<line x1="438.20" y1="410.83" x2="441.70" y2="410.83" stroke="#000" stroke-width="1.5"/>
<line x1="438.20" y1="408.76" x2="441.70" y2="408.76" stroke="#000" stroke-width="1.5"/>
<line x1="436.70" y1="447.44" x2="441.70" y2="447.44" stroke="#000" stroke-width="2"/>
<line x1="438.20" y1="475.78" x2="441.70" y2="475.78" stroke="#000" stroke-width="1.5"/>
<line x1="438.20" y1="468.64" x2="441.70" y2="468.64" stroke="#000" stroke-width="1.5"/>
<line x1="438.20" y1="463.57" x2="441.70" y2="463.57" stroke="#000" stroke-width="1.5"/>
<line x1="438.20" y1="459.64" x2="441.70" y2="459.64" stroke="#000" stroke-width="1.5"/>
<line x1="438.20" y1="456.43" x2="441.70" y2="456.43" stroke="#000" stroke-width="1.5"/>
<line x1="438.20" y1="453.72" x2="441.70" y2="453.72" stroke="#000" stroke-width="1.5"/>
<line x1="438.20" y1="451.37" x2="441.70" y2="451.37" stroke="#000" stroke-width="1.5"/>
<line x1="438.20" y1="449.30" x2="441.70" y2="449.30" stroke="#000" stroke-width="1.5"/>
<line x1="436.70" y1="487.98" x2="441.70" y2="487.98" stroke="#000" stroke-width="2"/>
<line x1="438.20" y1="516.32" x2="441.70" y2="516.32" stroke="#000" stroke-width="1.5"/>
<line x1="438.20" y1="509.18" x2="441.70" y2="509.18" stroke="#000" stroke-width="1.5"/>
<line x1="438.20" y1="504.11" x2="441.70" y2="504.11" stroke="#000" stroke-width="1.5"/>
<line x1="438.20" y1="500.18" x2="441.70" y2="500.18" stroke="#000" stroke-width="1.5"/>
<line x1="438.20" y1="496.97" x2="441.70" y2="496.97" stroke="#000" stroke-width="1.5"/>
<line x1="438.20" y1="494.26" x2="441.70" y2="494.26" stroke="#000" stroke-width="1.5"/>
<line x1="438.20" y1="491.91" x2="441.70" y2="491.91" stroke="#000" stroke-width="1.5"/>
<line x1="438.20" y1="489.84" x2="441.70" y2="489.84" stroke="#000" stroke-width="1.5"/>
<line x1="436.70" y1="528.52" x2="441.70" y2="528.52" stroke="#000" stroke-width="2"/>
<line x1="438.20" y1="556.86" x2="441.70" y2="556.86" stroke="#000" stroke-width="1.5"/>
<line x1="438.20" y1="549.72" x2="441.70" y2="549.72" stroke="#000" stroke-width="1.5"/>
<line x1="438.20" y1="544.65" x2="441.70" y2="544.65" stroke="#000" stroke-width="1.5"/>
<line x1="438.20" y1="540.72" x2="441.70" y2="540.72" stroke="#000" stroke-width="1.5"/>
<line x1="438.20" y1="537.51" x2="441.70" y2="537.51" stroke="#000" stroke-width="1.5"/>
<line x1="438.20" y1="534.80" x2="441.70" y2="534.80" stroke="#000" stroke-width="1.5"/>
<line x1="438.20" y1="532.45" x2="441.70" y2="532.45" stroke="#000" stroke-width="1.5"/>
<line x1="438.20" y1="530.38" x2="441.70" y2="530.38" stroke="#000" stroke-width="1.5"/>
<line x1="436.70" y1="569.06" x2="441.70" y2="569.06" stroke="#000" stroke-width="2"/>
<line x1="438.20" y1="597.40" x2="441.70" y2="597.40" stroke="#000" stroke-width="1.5"/>
<line x1="438.20" y1="590.26" x2="441.70" y2="590.26" stroke="#000" stroke-width="1.5"/>
<line x1="438.20" y1="585.19" x2="441.70" y2="585.19" stroke="#000" stroke-width="1.5"/>
<line x1="438.20" y1="581.26" x2="441.70" y2="581.26" stroke="#000" stroke-width="1.5"/>
<line x1="438.20" y1="578.05" x2="441.70" y2="578.05" stroke="#000" stroke-width="1.5"/>
<line x1="438.20" y1="575.34" x2="441.70" y2="575.34" stroke="#000" stroke-width="1.5"/>
<line x1="438.20" y1="572.99" x2="441.70" y2="572.99" stroke="#000" stroke-width="1.5"/>
<line x1="438.20" y1="570.92" x2="441.70" y2="570.92" stroke="#000" stroke-width="1.5"/>
<line x1="436.70" y1="609.60" x2="441.70" y2="609.60" stroke="#000" stroke-width="2"/>
<g transform="translate(434.60 412.50) scale(0.92 1)"><polygon points="-19.19,0.00 -19.19,-11.46 -21.11,-11.46 -24.63,-8.64 -24.63,-6.56 -21.51,-8.32 -21.51,0.00" fill="#000"/><text x="-16.53" y="0" font-size="16" font-weight="700">0</text><text x="-5.84" y="-5.8" font-size="10.5" font-weight="700">2</text></g>
<g transform="translate(434.60 453.04) scale(0.92 1)"><polygon points="-19.19,0.00 -19.19,-11.46 -21.11,-11.46 -24.63,-8.64 -24.63,-6.56 -21.51,-8.32 -21.51,0.00" fill="#000"/><text x="-16.53" y="0" font-size="16" font-weight="700">0</text><polygon points="-1.74,-5.80 -1.74,-13.32 -3.00,-13.32 -5.31,-11.47 -5.31,-10.11 -3.27,-11.26 -3.27,-5.80" fill="#000"/></g>
<g transform="translate(434.60 493.58) scale(0.92 1)"><polygon points="-19.19,0.00 -19.19,-11.46 -21.11,-11.46 -24.63,-8.64 -24.63,-6.56 -21.51,-8.32 -21.51,0.00" fill="#000"/><text x="-16.53" y="0" font-size="16" font-weight="700">0</text><text x="-5.84" y="-5.8" font-size="10.5" font-weight="700">0</text></g>
<g transform="translate(434.60 534.12) scale(0.92 1)"><polygon points="-22.69,0.00 -22.69,-11.46 -24.61,-11.46 -28.13,-8.64 -28.13,-6.56 -25.01,-8.32 -25.01,0.00" fill="#000"/><text x="-20.03" y="0" font-size="16" font-weight="700">0</text><text x="-9.33" y="-5.8" font-size="10.5" font-weight="700">-</text><polygon points="-1.74,-5.80 -1.74,-13.32 -3.00,-13.32 -5.31,-11.47 -5.31,-10.11 -3.27,-11.26 -3.27,-5.80" fill="#000"/></g>
<g transform="translate(434.60 574.66) scale(0.92 1)"><polygon points="-22.69,0.00 -22.69,-11.46 -24.61,-11.46 -28.13,-8.64 -28.13,-6.56 -25.01,-8.32 -25.01,0.00" fill="#000"/><text x="-20.03" y="0" font-size="16" font-weight="700">0</text><text x="-9.33" y="-5.8" font-size="10.5" font-weight="700">-</text><text x="-5.84" y="-5.8" font-size="10.5" font-weight="700">2</text></g>
<g transform="translate(434.60 615.20) scale(0.92 1)"><polygon points="-22.69,0.00 -22.69,-11.46 -24.61,-11.46 -28.13,-8.64 -28.13,-6.56 -25.01,-8.32 -25.01,0.00" fill="#000"/><text x="-20.03" y="0" font-size="16" font-weight="700">0</text><text x="-9.33" y="-5.8" font-size="10.5" font-weight="700">-</text><text x="-5.84" y="-5.8" font-size="10.5" font-weight="700">3</text></g>
<line x1="475.80" y1="609.60" x2="475.80" y2="615.10" stroke="#000" stroke-width="2"/>
<line x1="526.00" y1="609.60" x2="526.00" y2="615.10" stroke="#000" stroke-width="2"/>
<line x1="575.80" y1="609.60" x2="575.80" y2="615.10" stroke="#000" stroke-width="2"/>
<line x1="626.00" y1="609.60" x2="626.00" y2="615.10" stroke="#000" stroke-width="2"/>
<line x1="675.80" y1="609.60" x2="675.80" y2="615.10" stroke="#000" stroke-width="2"/>
<text x="481.8" y="628.6" font-size="16" font-weight="700" text-anchor="end" transform="rotate(-45 481.8 628.6)">HC</text>
<text x="532.0" y="628.6" font-size="16" font-weight="700" text-anchor="end" transform="rotate(-45 532.0 628.6)">PD</text>
<text x="581.8" y="628.6" font-size="16" font-weight="700" text-anchor="end" transform="rotate(-45 581.8 628.6)">Pre-HD</text>
<text x="632.0" y="628.6" font-size="16" font-weight="700" text-anchor="end" transform="rotate(-45 632.0 628.6)">Av intra-HD</text>
<text x="681.8" y="628.6" font-size="16" font-weight="700" text-anchor="end" transform="rotate(-45 681.8 628.6)">SLE</text>
<text x="395.0" y="595.0" font-size="19.7" font-weight="400" text-anchor="start" transform="rotate(-90 395.0 595.0)" textLength="174.4" lengthAdjust="spacingAndGlyphs">S100A8/A9 (&#181;g/mL)</text>
<rect x="392.7" y="571.0" width="3.3" height="3.7" fill="#fff"/><rect x="392.7" y="577.0" width="3.3" height="4.0" fill="#fff"/>
<circle cx="475.4" cy="488.2" r="4.0" fill="none" stroke="#000" stroke-width="1.2"/>
<circle cx="463.6" cy="496.5" r="4.0" fill="none" stroke="#000" stroke-width="1.2"/>
<circle cx="466.5" cy="498.0" r="4.0" fill="none" stroke="#000" stroke-width="1.2"/>
<circle cx="469.7" cy="499.4" r="4.0" fill="none" stroke="#000" stroke-width="1.2"/>
<circle cx="472.0" cy="500.8" r="4.0" fill="none" stroke="#000" stroke-width="1.2"/>
<circle cx="487.2" cy="497.4" r="4.0" fill="none" stroke="#000" stroke-width="1.2"/>
<circle cx="484.4" cy="498.8" r="4.0" fill="none" stroke="#000" stroke-width="1.2"/>
<circle cx="481.5" cy="500.5" r="4.0" fill="none" stroke="#000" stroke-width="1.2"/>
<circle cx="478.6" cy="502.3" r="4.0" fill="none" stroke="#000" stroke-width="1.2"/>
<circle cx="471.1" cy="507.2" r="4.0" fill="none" stroke="#000" stroke-width="1.2"/>
<circle cx="475.1" cy="507.2" r="4.0" fill="none" stroke="#000" stroke-width="1.2"/>
<circle cx="479.2" cy="507.2" r="4.0" fill="none" stroke="#000" stroke-width="1.2"/>
<circle cx="467.4" cy="514.6" r="4.0" fill="none" stroke="#000" stroke-width="1.2"/>
<circle cx="483.2" cy="514.6" r="4.0" fill="none" stroke="#000" stroke-width="1.2"/>
<circle cx="472.3" cy="513.8" r="4.0" fill="none" stroke="#000" stroke-width="1.2"/>
<circle cx="478.0" cy="513.8" r="4.0" fill="none" stroke="#000" stroke-width="1.2"/>
<circle cx="466.7" cy="519.3" r="4.0" fill="none" stroke="#000" stroke-width="1.2"/>
<circle cx="472.2" cy="521.3" r="4.0" fill="none" stroke="#000" stroke-width="1.2"/>
<circle cx="478.2" cy="522.8" r="4.0" fill="none" stroke="#000" stroke-width="1.2"/>
<circle cx="484.3" cy="519.8" r="4.0" fill="none" stroke="#000" stroke-width="1.2"/>
<circle cx="464.6" cy="535.9" r="4.0" fill="none" stroke="#000" stroke-width="1.2"/>
<circle cx="475.2" cy="537.9" r="4.0" fill="none" stroke="#000" stroke-width="1.2"/>
<circle cx="485.8" cy="537.9" r="4.0" fill="none" stroke="#000" stroke-width="1.2"/>
<circle cx="469.4" cy="558.6" r="4.0" fill="none" stroke="#000" stroke-width="1.2"/>
<circle cx="466.6" cy="569.4" r="4.0" fill="none" stroke="#000" stroke-width="1.2"/>
<circle cx="472.5" cy="569.4" r="4.0" fill="none" stroke="#000" stroke-width="1.2"/>
<circle cx="478.2" cy="569.4" r="4.0" fill="none" stroke="#000" stroke-width="1.2"/>
<circle cx="481.7" cy="566.3" r="4.0" fill="none" stroke="#000" stroke-width="1.2"/>
<circle cx="483.9" cy="569.4" r="4.0" fill="none" stroke="#000" stroke-width="1.2"/>
<circle cx="469.4" cy="585.3" r="4.0" fill="none" stroke="#000" stroke-width="1.2"/>
<circle cx="481.4" cy="582.5" r="4.0" fill="none" stroke="#000" stroke-width="1.2"/>
<circle cx="519.4" cy="471.8" r="4.0" fill="none" stroke="#000" stroke-width="1.2"/>
<circle cx="531.5" cy="464.8" r="4.0" fill="none" stroke="#000" stroke-width="1.2"/>
<circle cx="525.5" cy="494.6" r="4.0" fill="none" stroke="#000" stroke-width="1.2"/>
<circle cx="515.0" cy="499.0" r="4.0" fill="none" stroke="#000" stroke-width="1.2"/>
<circle cx="525.5" cy="507.3" r="4.0" fill="none" stroke="#000" stroke-width="1.2"/>
<circle cx="536.0" cy="507.3" r="4.0" fill="none" stroke="#000" stroke-width="1.2"/>
<circle cx="569.4" cy="445.6" r="4.0" fill="none" stroke="#000" stroke-width="1.2"/>
<circle cx="581.8" cy="446.9" r="4.0" fill="none" stroke="#000" stroke-width="1.2"/>
<circle cx="571.2" cy="453.2" r="4.0" fill="none" stroke="#000" stroke-width="1.2"/>
<circle cx="579.7" cy="455.2" r="4.0" fill="none" stroke="#000" stroke-width="1.2"/>
<circle cx="581.8" cy="458.2" r="4.0" fill="none" stroke="#000" stroke-width="1.2"/>
<circle cx="569.4" cy="464.7" r="4.0" fill="none" stroke="#000" stroke-width="1.2"/>
<circle cx="571.4" cy="470.3" r="4.0" fill="none" stroke="#000" stroke-width="1.2"/>
<circle cx="579.7" cy="469.3" r="4.0" fill="none" stroke="#000" stroke-width="1.2"/>
<circle cx="565.1" cy="476.8" r="4.0" fill="none" stroke="#000" stroke-width="1.2"/>
<circle cx="586.3" cy="476.3" r="4.0" fill="none" stroke="#000" stroke-width="1.2"/>
<circle cx="575.5" cy="482.9" r="4.0" fill="none" stroke="#000" stroke-width="1.2"/>
<circle cx="581.8" cy="492.9" r="4.0" fill="none" stroke="#000" stroke-width="1.2"/>
<circle cx="569.4" cy="498.3" r="4.0" fill="none" stroke="#000" stroke-width="1.2"/>
<circle cx="579.7" cy="498.8" r="4.0" fill="none" stroke="#000" stroke-width="1.2"/>
<circle cx="571.4" cy="504.4" r="4.0" fill="none" stroke="#000" stroke-width="1.2"/>
<circle cx="575.5" cy="530.2" r="4.0" fill="none" stroke="#000" stroke-width="1.2"/>
<circle cx="575.7" cy="553.1" r="4.0" fill="none" stroke="#000" stroke-width="1.2"/>
<circle cx="619.4" cy="443.1" r="4.0" fill="none" stroke="#000" stroke-width="1.2"/>
<circle cx="631.8" cy="445.1" r="4.0" fill="none" stroke="#000" stroke-width="1.2"/>
<circle cx="621.4" cy="449.4" r="4.0" fill="none" stroke="#000" stroke-width="1.2"/>
<circle cx="629.7" cy="451.4" r="4.0" fill="none" stroke="#000" stroke-width="1.2"/>
<circle cx="614.6" cy="459.7" r="4.0" fill="none" stroke="#000" stroke-width="1.2"/>
<circle cx="620.2" cy="468.3" r="4.0" fill="none" stroke="#000" stroke-width="1.2"/>
<circle cx="636.3" cy="467.3" r="4.0" fill="none" stroke="#000" stroke-width="1.2"/>
<circle cx="625.7" cy="470.3" r="4.0" fill="none" stroke="#000" stroke-width="1.2"/>
<circle cx="630.8" cy="469.8" r="4.0" fill="none" stroke="#000" stroke-width="1.2"/>
<circle cx="615.1" cy="474.8" r="4.0" fill="none" stroke="#000" stroke-width="1.2"/>
<circle cx="636.3" cy="474.8" r="4.0" fill="none" stroke="#000" stroke-width="1.2"/>
<circle cx="618.2" cy="479.4" r="4.0" fill="none" stroke="#000" stroke-width="1.2"/>
<circle cx="633.3" cy="479.4" r="4.0" fill="none" stroke="#000" stroke-width="1.2"/>
<circle cx="621.2" cy="482.9" r="4.0" fill="none" stroke="#000" stroke-width="1.2"/>
<circle cx="630.2" cy="482.9" r="4.0" fill="none" stroke="#000" stroke-width="1.2"/>
<circle cx="625.2" cy="486.4" r="4.0" fill="none" stroke="#000" stroke-width="1.2"/>
<circle cx="625.6" cy="558.7" r="4.0" fill="none" stroke="#000" stroke-width="1.2"/>
<circle cx="675.5" cy="447.3" r="4.0" fill="none" stroke="#000" stroke-width="1.2"/>
<circle cx="675.5" cy="474.3" r="4.0" fill="none" stroke="#000" stroke-width="1.2"/>
<circle cx="665.1" cy="486.5" r="4.0" fill="none" stroke="#000" stroke-width="1.2"/>
<circle cx="675.6" cy="489.4" r="4.0" fill="none" stroke="#000" stroke-width="1.2"/>
<circle cx="686.3" cy="488.9" r="4.0" fill="none" stroke="#000" stroke-width="1.2"/>
<circle cx="669.5" cy="493.7" r="4.0" fill="none" stroke="#000" stroke-width="1.2"/>
<circle cx="681.7" cy="495.1" r="4.0" fill="none" stroke="#000" stroke-width="1.2"/>
<circle cx="671.6" cy="499.4" r="4.0" fill="none" stroke="#000" stroke-width="1.2"/>
<circle cx="679.5" cy="501.6" r="4.0" fill="none" stroke="#000" stroke-width="1.2"/>
<circle cx="665.9" cy="504.5" r="4.0" fill="none" stroke="#000" stroke-width="1.2"/>
<circle cx="686.0" cy="507.3" r="4.0" fill="none" stroke="#000" stroke-width="1.2"/>
<circle cx="668.7" cy="512.4" r="4.0" fill="none" stroke="#000" stroke-width="1.2"/>
<circle cx="682.4" cy="513.1" r="4.0" fill="none" stroke="#000" stroke-width="1.2"/>
<circle cx="672.3" cy="517.4" r="4.0" fill="none" stroke="#000" stroke-width="1.2"/>
<circle cx="675.9" cy="518.1" r="4.0" fill="none" stroke="#000" stroke-width="1.2"/>
<circle cx="679.5" cy="517.4" r="4.0" fill="none" stroke="#000" stroke-width="1.2"/>
<circle cx="665.1" cy="527.5" r="4.0" fill="none" stroke="#000" stroke-width="1.2"/>
<circle cx="686.3" cy="526.8" r="4.0" fill="none" stroke="#000" stroke-width="1.2"/>
<circle cx="675.6" cy="538.3" r="4.0" fill="none" stroke="#000" stroke-width="1.2"/>
<circle cx="675.6" cy="569.2" r="4.0" fill="none" stroke="#000" stroke-width="1.2"/>
<rect x="455.1" y="516.4" width="40.8" height="3.8" fill="#000"/>
<rect x="504.9" y="495.1" width="41.4" height="3.8" fill="#000"/>
<rect x="555.1" y="474.1" width="40.8" height="3.8" fill="#000"/>
<rect x="605.1" y="469.1" width="40.8" height="3.8" fill="#000"/>
<rect x="655.1" y="504.9" width="41.0" height="3.8" fill="#000"/>
<path d="M528.05,407.20L528.05,403.40M528.05,407.20L531.66,406.03M528.05,407.20L530.28,410.27M528.05,407.20L525.82,410.27M528.05,407.20L524.44,406.03" stroke="#000" stroke-width="1.3" stroke-linecap="butt" fill="none"/>
<path d="M537.35,407.20L537.35,403.40M537.35,407.20L540.96,406.03M537.35,407.20L539.58,410.27M537.35,407.20L535.12,410.27M537.35,407.20L533.74,406.03" stroke="#000" stroke-width="1.3" stroke-linecap="butt" fill="none"/>
<path d="M565.50,407.20L565.50,403.40M565.50,407.20L569.11,406.03M565.50,407.20L567.73,410.27M565.50,407.20L563.27,410.27M565.50,407.20L561.89,406.03" stroke="#000" stroke-width="1.3" stroke-linecap="butt" fill="none"/>
<path d="M574.80,407.20L574.80,403.40M574.80,407.20L578.41,406.03M574.80,407.20L577.03,410.27M574.80,407.20L572.57,410.27M574.80,407.20L571.19,406.03" stroke="#000" stroke-width="1.3" stroke-linecap="butt" fill="none"/>
<path d="M584.10,407.20L584.10,403.40M584.10,407.20L587.71,406.03M584.10,407.20L586.33,410.27M584.10,407.20L581.87,410.27M584.10,407.20L580.49,406.03" stroke="#000" stroke-width="1.3" stroke-linecap="butt" fill="none"/>
<path d="M612.60,407.20L612.60,403.40M612.60,407.20L616.21,406.03M612.60,407.20L614.83,410.27M612.60,407.20L610.37,410.27M612.60,407.20L608.99,406.03" stroke="#000" stroke-width="1.3" stroke-linecap="butt" fill="none"/>
<path d="M621.90,407.20L621.90,403.40M621.90,407.20L625.51,406.03M621.90,407.20L624.13,410.27M621.90,407.20L619.67,410.27M621.90,407.20L618.29,406.03" stroke="#000" stroke-width="1.3" stroke-linecap="butt" fill="none"/>
<path d="M631.20,407.20L631.20,403.40M631.20,407.20L634.81,406.03M631.20,407.20L633.43,410.27M631.20,407.20L628.97,410.27M631.20,407.20L627.59,406.03" stroke="#000" stroke-width="1.3" stroke-linecap="butt" fill="none"/>
<path d="M676.60,407.20L676.60,403.40M676.60,407.20L680.21,406.03M676.60,407.20L678.83,410.27M676.60,407.20L674.37,410.27M676.60,407.20L672.99,406.03" stroke="#000" stroke-width="1.3" stroke-linecap="butt" fill="none"/>
<path d="M575.1,438.6V430.0H627.0V438.6" fill="none" stroke="#000" stroke-width="1.8"/>
<path d="M602.00,424.00L602.00,420.20M602.00,424.00L605.61,422.83M602.00,424.00L604.23,427.07M602.00,424.00L599.77,427.07M602.00,424.00L598.39,422.83" stroke="#000" stroke-width="1.3" stroke-linecap="butt" fill="none"/>
<path d="M630.2,438.1V430.0H682.1V438.1" fill="none" stroke="#000" stroke-width="1.8"/>
<path d="M648.20,422.50L648.20,418.70M648.20,422.50L651.81,421.33M648.20,422.50L650.43,425.57M648.20,422.50L645.97,425.57M648.20,422.50L644.59,421.33" stroke="#000" stroke-width="1.3" stroke-linecap="butt" fill="none"/>
<path d="M657.50,422.50L657.50,418.70M657.50,422.50L661.11,421.33M657.50,422.50L659.73,425.57M657.50,422.50L655.27,425.57M657.50,422.50L653.89,421.33" stroke="#000" stroke-width="1.3" stroke-linecap="butt" fill="none"/>
<path d="M666.80,422.50L666.80,418.70M666.80,422.50L670.41,421.33M666.80,422.50L669.03,425.57M666.80,422.50L664.57,425.57M666.80,422.50L663.19,421.33" stroke="#000" stroke-width="1.3" stroke-linecap="butt" fill="none"/>
</svg></body></html>
